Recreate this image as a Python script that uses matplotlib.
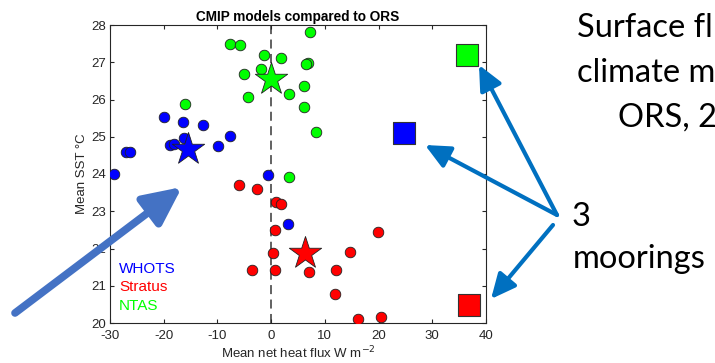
import matplotlib
matplotlib.use("Agg")
import matplotlib.pyplot as plt
from matplotlib.patches import FancyArrowPatch

# ---- data ----
whots_x = [-19.9, -16.45, -12.7, -7.75, -9.9, -18.9, -18.0, -16.3, -27.1, -26.3, -29.2, -0.6, 3.1]
whots_y = [25.52, 25.40, 25.31, 25.03, 24.76, 24.78, 24.81, 24.96, 24.58, 24.58, 24.01, 23.96, 22.67]
stratus_x = [-6.0, -2.6, 0.95, 1.8, 0.8, 19.9, 14.75, 0.3, -3.6, 0.7, 7.1, 12.1, 11.95, 16.2, 20.4]
stratus_y = [23.71, 23.61, 23.24, 23.19, 22.51, 22.43, 21.90, 21.88, 21.41, 21.42, 21.37, 21.42, 20.79, 20.11, 20.15]
ntas_x = [7.2, -7.75, -5.8, -1.35, 1.9, 6.9, 6.5, -1.8, -5.1, 3.25, -4.3, 6.2, 6.05, 8.4, -16.0, 3.3]
ntas_y = [27.81, 27.50, 27.46, 27.19, 27.12, 26.99, 26.94, 26.81, 26.69, 26.14, 26.08, 26.37, 25.80, 25.13, 25.89, 23.93]

# multi-model means (stars)
star_x = [-15.5, 6.3, 0.0]
star_y = [24.67, 21.88, 26.55]
# mooring observations (squares)
obs_x = [24.8, 36.9, 36.4]
obs_y = [25.10, 20.49, 27.19]

names = ["WHOTS", "Stratus", "NTAS"]
colors = ["#0000FF", "#FF0000", "#00FF00"]

xticks = [-30, -20, -10, 0, 10, 20, 30, 40]
yticks = [20, 21, 22, 23, 24, 25, 26, 27, 28]

plt.rcParams['axes.unicode_minus'] = False
plt.rcParams['font.family'] = ['Liberation Sans', 'DejaVu Sans']
fam = ['Liberation Sans', 'DejaVu Sans']

W, H, DPI = 715, 363, 100
fig = plt.figure(figsize=(W / DPI, H / DPI), dpi=DPI)
fig.patch.set_facecolor("white")
ax = fig.add_axes([110 / W, 1 - 323 / H, (486 - 110) / W, (323 - 25) / H])

ax.axvline(0, color="#555555", ls=(0, (5, 3)), lw=1.3, zorder=1)

series = [(whots_x, whots_y), (stratus_x, stratus_y), (ntas_x, ntas_y)]
for (xs, ys), c in zip(series, colors):
    ax.scatter(xs, ys, s=58, c=c, edgecolors="#222222", linewidths=0.6, zorder=3)
for i, c in enumerate(colors):
    ax.scatter([star_x[i]], [star_y[i]], s=600, marker="*", c=c,
               edgecolors="#222222", linewidths=0.6, zorder=4)
    ax.scatter([obs_x[i]], [obs_y[i]], s=230, marker="s", c=c,
               edgecolors="#333333", linewidths=0.8, zorder=4)

ax.set_xlim(-30, 40)
ax.set_ylim(20, 28)
ax.set_xticks(xticks)
ax.set_yticks(yticks)
ax.tick_params(direction="in", length=3, width=0.8, colors="#262626",
               labelsize=9.5, top=True, right=True)
ax.tick_params(axis="x", pad=5)
ax.tick_params(axis="y", pad=3)
for lab in ax.get_xticklabels() + ax.get_yticklabels():
    lab.set_family(fam)
for sp in ax.spines.values():
    sp.set_color("#262626")
    sp.set_linewidth(0.8)

ax.set_title("CMIP models compared to ORS", fontsize=9.8, fontweight="bold",
             family=fam, pad=3)
ax.set_xlabel("Mean net heat flux W m$^{-2}$", fontsize=9.5, family=fam,
              color="#262626", labelpad=2)
ax.set_ylabel("Mean SST \u00b0C", fontsize=9.5, family=fam, color="#262626",
              labelpad=2)

for name, c, yy in zip(names, colors, [21.45, 20.97, 20.46]):
    ax.text(-28.3, yy, name, color=c, fontsize=11, family=fam, va="center", ha="left")

# annotation text on the right (cropped in the reference)
tfam = ['Lato', 'DejaVu Sans']
fs = 23.5
fig.text(577 / W, 1 - 28 / H, "Surface fl", fontsize=fs, family=tfam, va="center", ha="left")
fig.text(577 / W, 1 - 73 / H, "climate m", fontsize=fs, family=tfam, va="center", ha="left")
fig.text(618 / W, 1 - 118 / H, "ORS, 2", fontsize=fs, family=tfam, va="center", ha="left")
fig.text(572 / W, 1 - 217 / H, "3", fontsize=fs, family=tfam, va="center", ha="left")
fig.text(573 / W, 1 - 259 / H, "moorings", fontsize=fs, family=tfam, va="center", ha="left")

def arrow(p0, p1, color, lw, hw, hl):
    a = FancyArrowPatch((p0[0] / W, 1 - p0[1] / H), (p1[0] / W, 1 - p1[1] / H),
                        transform=fig.transFigure, color=color, lw=lw,
                        arrowstyle=f"-|>,head_width={hw},head_length={hl}",
                        shrinkA=0, shrinkB=0, mutation_scale=10, zorder=10)
    fig.add_artist(a)

arrow((557, 215), (479, 65), "#0070C0", 3, 0.7, 1.5)
arrow((557, 215), (425, 145), "#0070C0", 3, 0.7, 1.5)
arrow((553, 225), (491, 299), "#0070C0", 3, 0.7, 1.5)
arrow((15, 313), (182, 187), "#4472C4", 5.5, 1.1, 2.3)

fig.savefig("out.png", dpi=DPI)
